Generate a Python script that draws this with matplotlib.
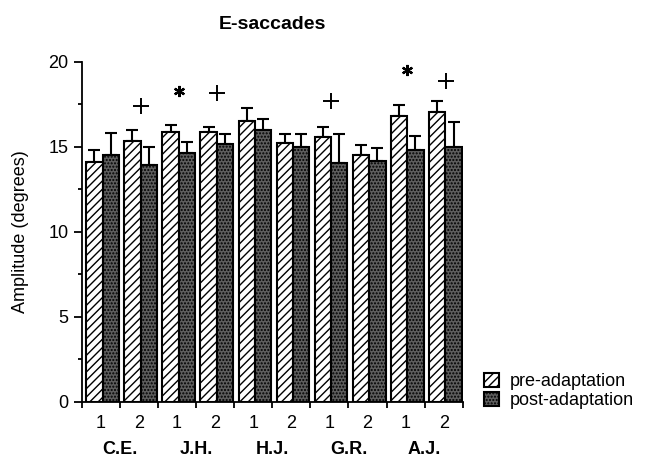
import numpy as np
import matplotlib
matplotlib.use('Agg')
import matplotlib.pyplot as plt
from matplotlib.ticker import MultipleLocator

plt.rcParams['font.family'] = ['Liberation Sans', 'DejaVu Sans']
plt.rcParams['hatch.linewidth'] = 1.0

subjects = ['C.E.', 'J.H.', 'H.J.', 'G.R.', 'A.J.']
sessions = ['1', '2', '1', '2', '1', '2', '1', '2', '1', '2']

pre = [14.1, 15.35, 15.86, 15.86, 16.55, 15.25, 15.56, 14.5, 16.8, 17.04]
pre_err = [0.72, 0.63, 0.41, 0.34, 0.73, 0.53, 0.64, 0.63, 0.67, 0.65]
post = [14.55, 13.96, 14.63, 15.19, 16.0, 14.99, 14.04, 14.16, 14.79, 14.99]
post_err = [1.25, 1.04, 0.66, 0.59, 0.65, 0.79, 1.74, 0.79, 0.87, 1.48]

# significance symbols: bar index, symbol, height
sig_idx = [1, 2, 3, 6, 8, 9]
sig_sym = ['+', '*', '+', '+', '*', '+']
sig_y = [17.4, 18.3, 18.15, 17.7, 19.5, 18.9]

x = np.arange(len(pre))
w = 0.43

fig = plt.figure(figsize=(6.49, 4.59), dpi=100)
ax = fig.add_axes([0.126, 0.125, 0.587, 0.74])

ax.bar(x - 0.17, pre, w, color='white', edgecolor='black', hatch='////',
       linewidth=1.5, label='pre-adaptation', zorder=2)
ax.bar(x + 0.26, post, w, color='#5e5e5e', edgecolor='black', hatch='.....',
       linewidth=1.5, label='post-adaptation', zorder=2)
ax.errorbar(x - 0.17, pre, yerr=[np.zeros(len(pre)), pre_err], fmt='none',
            ecolor='black', elinewidth=1.5, capsize=4, capthick=1.5, zorder=1)
ax.errorbar(x + 0.26, post, yerr=[np.zeros(len(post)), post_err], fmt='none',
            ecolor='black', elinewidth=1.5, capsize=4, capthick=1.5, zorder=1)

for i, s, y in zip(sig_idx, sig_sym, sig_y):
    if s == '+':
        ax.plot(i + 0.05, y, marker='+', ms=12, mew=1.4, color='black')
    else:
        ax.plot(i + 0.05, y, marker=(6, 2, 0), ms=8, mew=1.6, color='black')

ax.set_xlim(-0.5, 9.5)
ax.set_ylim(0, 20)
ax.spines['top'].set_visible(False)
ax.spines['right'].set_visible(False)
ax.spines['left'].set_linewidth(1.3)
ax.spines['bottom'].set_linewidth(1.3)

ax.yaxis.set_major_locator(MultipleLocator(5))
ax.yaxis.set_minor_locator(MultipleLocator(2.5))
ax.set_xticks(np.arange(-0.5, 10, 1))
ax.set_xticklabels([])
ax.tick_params(axis='both', which='major', direction='out', length=6, width=1.3,
               labelsize=13)
ax.tick_params(axis='y', which='minor', direction='out', length=3, width=1.3)
ax.tick_params(axis='x', length=4)

for i, s in enumerate(sessions):
    ax.text(i, -1.3, s, ha='center', va='center', fontsize=13)
for j, s in enumerate(subjects):
    ax.text(2 * j + 0.5, -2.8, s, ha='center', va='center', fontsize=13,
            fontweight='bold')

ax.set_ylabel('Amplitude (degrees)', fontsize=13, labelpad=14)
ax.set_title('E-saccades', fontsize=14, fontweight='bold', pad=24)

ax.legend(loc='lower left', bbox_to_anchor=(0.735, 0.093), bbox_transform=fig.transFigure,
          frameon=False, fontsize=13, handlelength=0.8, handleheight=0.8,
          handletextpad=0.6, labelspacing=0.1, borderaxespad=0)

fig.savefig('out.png', dpi=100)
